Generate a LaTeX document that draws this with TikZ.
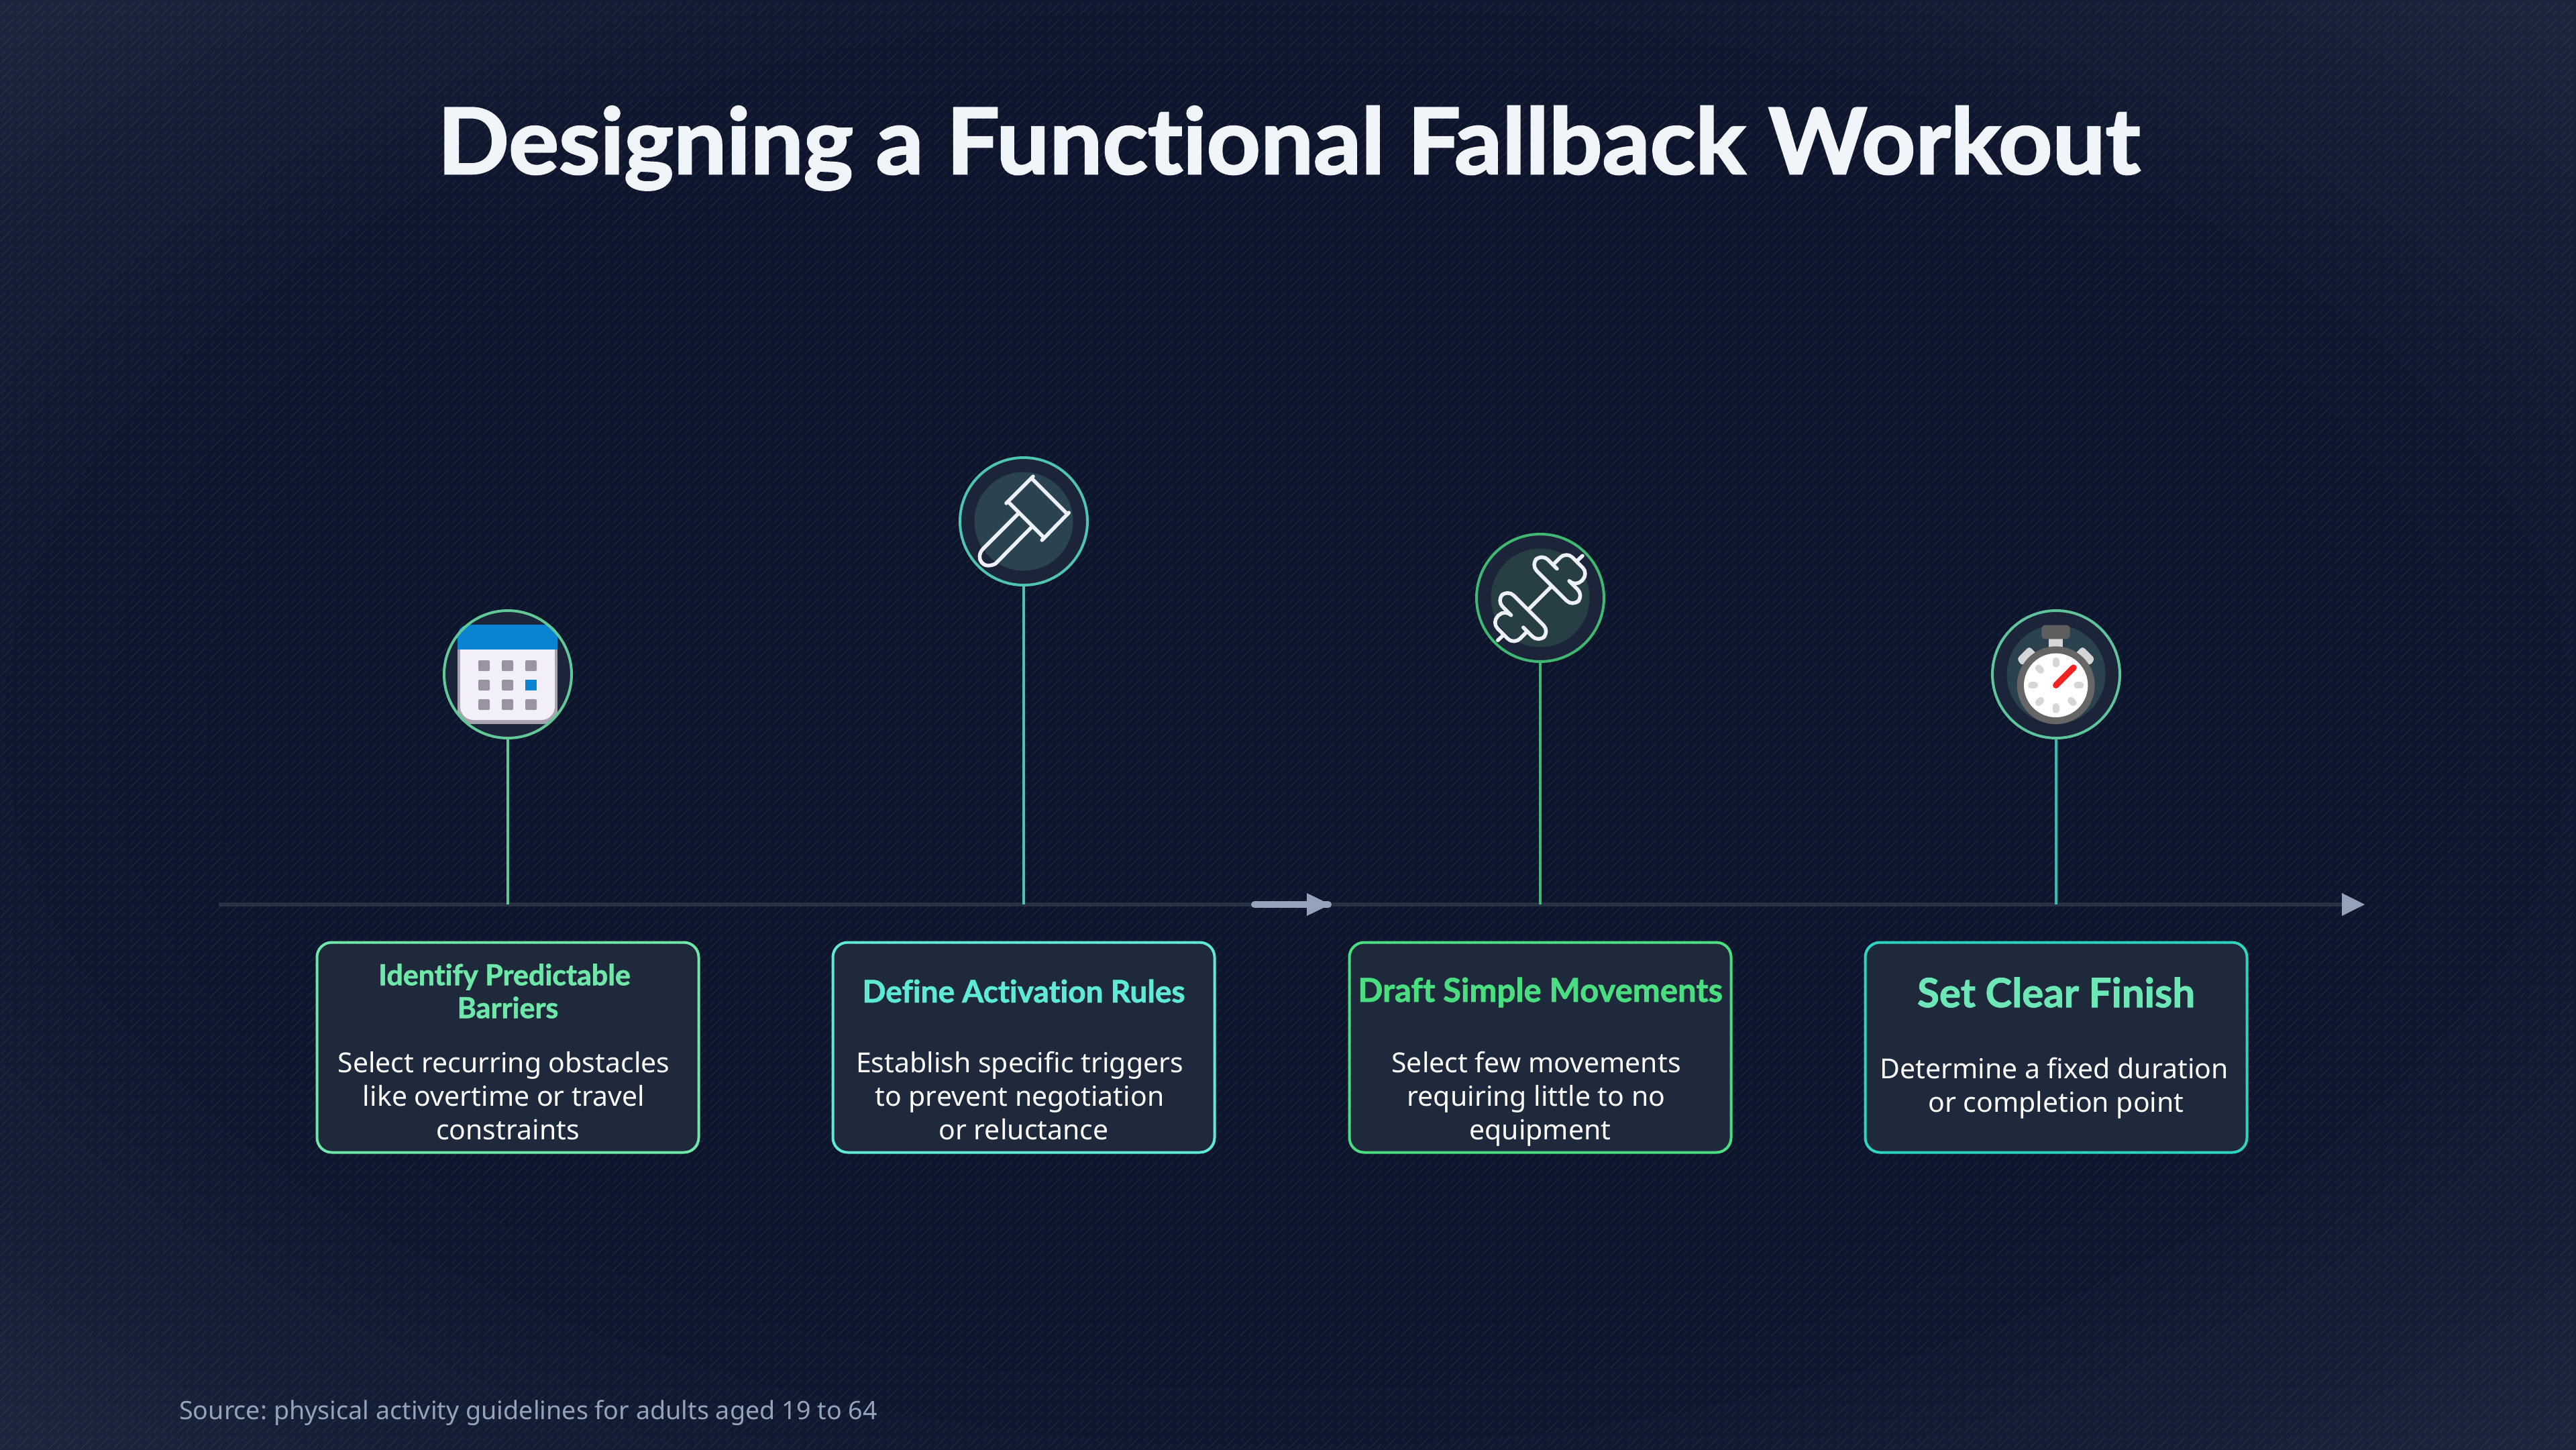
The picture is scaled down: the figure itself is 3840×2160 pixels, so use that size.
\documentclass[tikz,border=0pt]{standalone}
\usepackage{fontspec}
\usetikzlibrary{patterns}
\frenchspacing
\setmainfont{Noto Sans}
\newfontfamily\headfont[Ligatures=NoCommon,BoldFeatures={FakeBold=1.5}]{Lato}
\newfontfamily\titlefont[Ligatures=NoCommon,BoldFeatures={FakeBold=2,FakeStretch=1.03}]{Lato}
\definecolor{bgdark}{HTML}{0C152B}
\definecolor{bglight}{HTML}{1B263C}
\definecolor{boxfill}{HTML}{1E293B}
\definecolor{discfill}{HTML}{1B2438}
\definecolor{lineclr}{HTML}{263144}
\definecolor{tipclr}{HTML}{94A3B8}
\definecolor{iconw}{HTML}{EEF2F8}
\definecolor{titleclr}{HTML}{F1F5F9}
\definecolor{gA}{HTML}{6EE7A8}
\definecolor{gB}{HTML}{5EEAD4}
\definecolor{gC}{HTML}{4ADE80}
\definecolor{gD}{HTML}{2DD4BF}
\definecolor{ttD}{HTML}{6EE7B7}
\definecolor{ringA}{HTML}{63C898}
\definecolor{ringB}{HTML}{4FC4B0}
\definecolor{ringC}{HTML}{40B872}
\definecolor{ringD}{HTML}{5FC49C}
\definecolor{stemD}{HTML}{2EBFB2}
\definecolor{calblue}{HTML}{0A84D0}
\definecolor{calgrey}{HTML}{A9A2B2}
\definecolor{calwhite}{HTML}{F3EFF8}
\definecolor{calsq}{HTML}{9A92A2}
\definecolor{watchtick}{HTML}{D6D6D6}
\definecolor{watchgrey}{HTML}{666666}
\definecolor{watchred}{HTML}{F02222}
\definecolor{inB}{HTML}{2A4350}
\definecolor{inC}{HTML}{273F44}
\definecolor{inD}{HTML}{2A424E}
\pgfdeclareradialshading{vign}{\pgfpoint{0bp}{0bp}}{%
  color(0bp)=(bgdark); color(20bp)=(bgdark); color(25bp)=(bglight!15!bgdark); color(30bp)=(bglight!50!bgdark); color(35bp)=(bglight); color(50bp)=(bglight)}
\pgfdeclarepatternformonly{tilestripes}{\pgfqpoint{0pt}{0pt}}{\pgfqpoint{24pt}{24pt}}{\pgfqpoint{24pt}{24pt}}{%
  \pgfsetlinewidth{1.6pt}%
  \pgfpathmoveto{\pgfqpoint{2pt}{2pt}}\pgfpathlineto{\pgfqpoint{22pt}{22pt}}%
  \pgfpathmoveto{\pgfqpoint{2pt}{14pt}}\pgfpathlineto{\pgfqpoint{10pt}{22pt}}%
  \pgfpathmoveto{\pgfqpoint{14pt}{2pt}}\pgfpathlineto{\pgfqpoint{22pt}{10pt}}%
  \pgfusepath{stroke}}
\tikzset{
  cardbox/.style={draw=#1,line width=4pt,fill=boxfill,rounded corners=22pt,minimum width=569pt,minimum height=313pt,inner sep=0pt},
  bodytxt/.style={text=white,align=center,inner sep=0pt,font=\fontsize{41}{50}\selectfont},
  headtxt/.style={align=center,inner sep=0pt},
  ring/.style={circle,draw=#1,line width=4pt,minimum size=190pt,inner sep=0pt},
  disc/.style={circle,fill=discfill,minimum size=188pt,inner sep=0pt},
  innerdisc/.style={circle,fill=#1,minimum size=147pt,inner sep=0pt},
  stem/.style={draw=#1,line width=4pt},
  glyph/.style={draw=iconw,line width=5.5pt,line cap=round,line join=round},
  watchtickline/.style={draw=watchtick,line width=10pt,line cap=round},
  zoomed/.style={x=0.33333pt,y=-0.33333pt},
}
\begin{document}
\begin{tikzpicture}[x=1pt,y=-1pt]
\useasboundingbox (0,0) rectangle (3840,2160);
\shade[shading=vign] (0,0) rectangle (3840,2160);
\fill[pattern=tilestripes,pattern color=white,fill opacity=0.06] (0,0) rectangle (3840,2160);

% title and source
\node[text=titleclr,inner sep=0pt,anchor=base,font=\titlefont\bfseries\fontsize{136}{150}\selectfont] (title) at (1921,259) {Designing a Functional Fallback Workout};
\node[anchor=base west,text=tipclr,inner sep=0pt,font=\fontsize{37.7}{46}\selectfont] (source) at (267,2115) {Source: physical activity guidelines for adults aged 19 to 64};

% timeline
\coordinate (tlstart) at (326,1348);
\coordinate (tlend) at (3491,1348);
\coordinate (midstart) at (1870,1348);
\coordinate (midend) at (1980,1348);
\draw[draw=lineclr,line width=6pt] (tlstart) -- (tlend);
\fill[tipclr] (3491,1331) -- (3525,1348) -- (3491,1365) -- cycle;
\draw[tipclr,line width=10pt,line cap=round] (midstart) -- (midend);
\fill[tipclr] (1948,1331) -- (1983,1348) -- (1948,1365) -- cycle;

% discs
\node[disc] (d1) at (757,1005) {};
\node[disc] (d2) at (1526,777) {};
\node[disc] (d3) at (2296,891) {};
\node[disc] (d4) at (3065,1005) {};
\node[innerdisc=inB] (i2) at (d2) {};
\node[innerdisc=inC] (i3) at (d3) {};
\node[innerdisc=inD] (i4) at (d4) {};

% calendar
\fill[calgrey,rounded corners=20pt] (682,960) -- (682,1079) -- (831,1079) -- (831,960) -- cycle;
\fill[calgrey] (682,960) rectangle (831,990);
\fill[calwhite,rounded corners=20pt] (686,960) -- (686,1073) -- (827,1073) -- (827,960) -- cycle;
\fill[calblue,rounded corners=17pt] (682,985) -- (682,931) -- (831,931) -- (831,985) -- cycle;
\fill[calwhite] (686,968) rectangle (827,990);
\fill[calgrey] (682,968) rectangle (686,990);
\fill[calgrey] (827,968) rectangle (831,990);
\foreach \cx in {713,748} \foreach \cy in {984,1013,1042}
  \fill[calsq,rounded corners=1.5pt] (\cx,\cy) rectangle ++(17,16);
\foreach \cy in {984,1042}
  \fill[calsq,rounded corners=1.5pt] (783,\cy) rectangle ++(17,16);
\fill[calblue] (783,1013) rectangle ++(17,16);

% hammer
\begin{scope}[shift={(1390,650)},zoomed]
\draw[glyph] (330,300) -- (450,180);
\draw[glyph] (445,190) -- (600,345);
\draw[glyph] (610,342) -- (490,465);
\draw[glyph] (345,300) -- (497,452);
\draw[glyph] (385,345) -- (225,505) .. controls (190,545) and (225,600) .. (282,570) -- (440,410);
\end{scope}

% dumbbell
\begin{scope}[shift={(2160,770)},zoomed]
\draw[glyph] (360,410) -- (455,315);
\foreach \rr in {0,180}{
 \begin{scope}[rotate around={\rr:(407.5,364)}]
 \draw[glyph,rounded corners=13pt] (483,233) -- (415,165) -- (365,215) -- (553,403) -- (603,353) -- (540,290);
 \draw[glyph,rounded corners=13pt] (465,215) -- (525,155) -- (625,255) -- (565,315) -- (540,290);
 \draw[glyph] (570,200) -- (597,175);
 \end{scope}}
\end{scope}

% stopwatch
\begin{scope}[shift={(2930,890)},zoomed]
\fill[watchtick] (372,180) rectangle (436,240);
\fill[watchgrey!105!white,rounded corners=5pt] (340,125) rectangle (467,187);
\fill[watchtick,rounded corners=4pt] (230,275) -- (285,220) -- (330,265) -- (250,305) -- cycle;
\fill[watchtick,rounded corners=4pt] (578,275) -- (523,220) -- (478,265) -- (558,305) -- cycle;
\fill[watchgrey] (404,394) circle[radius=174];
\fill[white] (404,394) circle[radius=143];
\foreach \aa in {0,45,...,315}
  \draw[watchtickline] (404,394) ++(\aa:95) -- ++(\aa:15);
\draw[watchred,line width=9.3pt,line cap=round] (404,394) -- (483,315);
\end{scope}

% rings and stems
\node[ring=ringA] (c1) at (d1) {};
\node[ring=ringB] (c2) at (d2) {};
\node[ring=ringC] (c3) at (d3) {};
\node[ring=ringD] (c4) at (d4) {};
\draw[stem=ringA] (c1.south) -- (c1.south |- tlstart);
\draw[stem=ringB] (c2.south) -- (c2.south |- tlstart);
\draw[stem=ringC] (c3.south) -- (c3.south |- tlstart);
\draw[stem=stemD] (c4.south) -- (c4.south |- tlstart);

% cards
\node[cardbox=gA] (b1) at (757,1561) {};
\node[cardbox=gB] (b2) at (1526,1561) {};
\node[cardbox=gC] (b3) at (2296,1561) {};
\node[cardbox=gD] (b4) at (3065,1561) {};

\node[headtxt,text=gA,font=\headfont\bfseries\fontsize{43}{49}\selectfont] (t1) at (752,1477) {Identify Predictable\\\hspace*{10pt}Barriers};
\node[headtxt,text=gB,font=\headfont\bfseries\fontsize{46}{50}\selectfont] (t2) at (1526,1477) {Define Activation Rules};
\node[headtxt,text=gC,font=\headfont\bfseries\fontsize{49}{50}\selectfont] (t3) at (2296,1479) {Draft Simple Movements};
\node[headtxt,text=ttD,font=\headfont\bfseries\fontsize{60}{60}\selectfont] (t4) at (3065,1479) {Set Clear Finish};

\node[bodytxt] (p1) at (751,1633) {Select recurring obstacles\\like overtime or travel\\\hspace*{12pt}constraints};
\node[bodytxt] (p2) at (1520,1633) {Establish specific triggers\\to prevent negotiation\\\hspace*{12pt}or reluctance};
\node[bodytxt] (p3) at (2290,1638) {Select few movements\\requiring little to no\\\hspace*{12pt}equipment};
\node[bodytxt] (p4) at (3062,1622) {Determine a fixed duration\\\hspace*{6pt}or completion point};
\end{tikzpicture}
\end{document}
